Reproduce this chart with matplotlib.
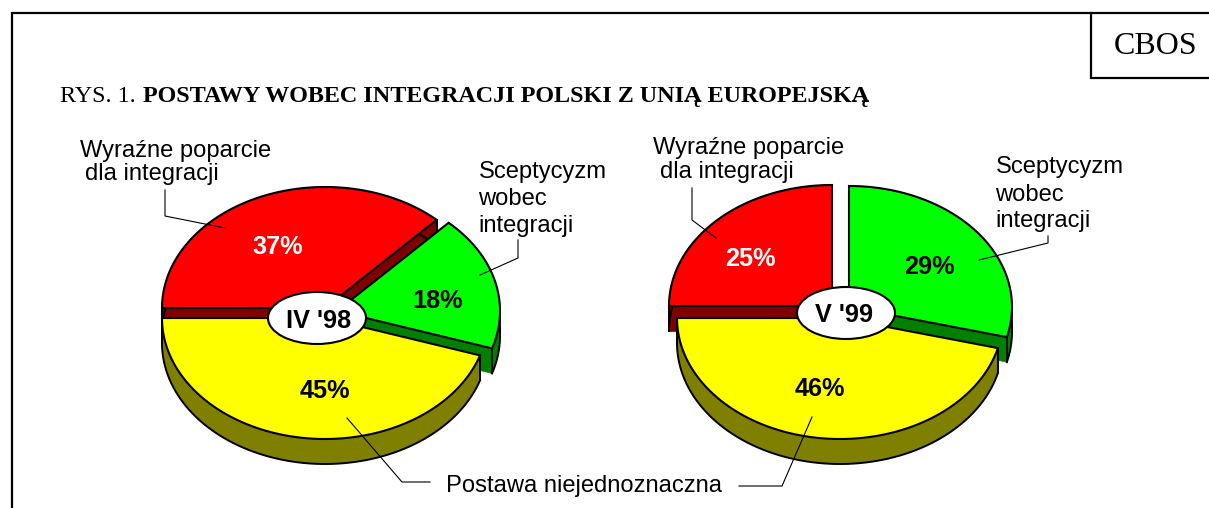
import numpy as np
import matplotlib
matplotlib.use("Agg")
import matplotlib.pyplot as plt
from matplotlib.patches import Polygon, Ellipse

W, H = 1209, 508
categories = ["Wyraźne poparcie dla integracji", "Sceptycyzm wobec integracji", "Postawa niejednoznaczna"]
periods = ["IV '98", "V '99"]
values_98 = [37, 18, 45]
values_99 = [25, 29, 46]
top_colors = ["#FF0000", "#00FF00", "#FFFF00"]
side_colors = ["#800000", "#008000", "#808000"]
pct_colors = ["white", "black", "black"]

RX, RY, DEPTH = 163, 121, 25
SANS = "Liberation Sans"
SERIF = "Liberation Serif"

fig = plt.figure(figsize=(W / 100, H / 100), dpi=100, facecolor="white")
ax = fig.add_axes([0, 0, 1, 1])
ax.set_xlim(0, W)
ax.set_ylim(H, 0)
ax.axis("off")


def wedge_points(center, a0, a1):
    t = np.radians(np.linspace(a0, a1, 160))
    xs = center[0] + RX * np.cos(t)
    ys = center[1] - RY * np.sin(t)
    return np.column_stack([xs, ys])


def draw_pie(values, centers, hole, period, pct_pos, period_pos):
    start = 180.0
    for i, v in enumerate(values):
        end = start - v * 3.6
        c = np.array(centers[i], dtype=float)
        arc = wedge_points(c, start, end)
        poly = np.vstack([[c], arc])
        shift = np.array([0, DEPTH])
        # side faces: rim band and the two radial cut faces, each one solid polygon
        faces = [np.vstack([arc, (arc + shift)[::-1]]),
                 np.array([c, arc[0], arc[0] + shift, c + shift]),
                 np.array([c, arc[-1], arc[-1] + shift, c + shift])]
        for face in faces:
            ax.add_patch(Polygon(face, closed=True, fc=side_colors[i], ec=side_colors[i], lw=0.5,
                                 zorder=2 + i * 3))
        for pt in [arc[0], arc[-1], arc[np.argmax(arc[:, 0])], arc[np.argmin(arc[:, 0])]]:
            ax.plot([pt[0], pt[0]], [pt[1], pt[1] + DEPTH], color="black", lw=1.2, zorder=3 + i * 3)
        ax.plot(arc[:, 0], arc[:, 1] + DEPTH, color="black", lw=1.4, zorder=3 + i * 3)
        ax.add_patch(Polygon(poly, closed=True, fc=top_colors[i], ec="black", lw=1.5,
                             joinstyle="miter", zorder=4 + i * 3))
        ax.text(*pct_pos[i], f"{v}%", color=pct_colors[i], fontsize=18.2, fontweight="bold",
                family=SANS, ha="center", va="center", zorder=30)
        start = end
    ax.add_patch(Ellipse(hole, 98, 52, fc="white", ec="black", lw=1.5, zorder=25))
    ax.text(*period_pos, period, fontsize=18.2, fontweight="bold", family=SANS,
            ha="center", va="center", zorder=30)


draw_pie(values_98, [(325, 308), (337, 311), (325, 318)], (317, 318), periods[0],
         [(277.5, 246.5), (438, 301), (325, 391)], (319, 321))
draw_pie(values_99, [(832, 306), (849, 307), (840, 318)], (846, 313), periods[1],
         [(750, 258.5), (929, 267.5), (820, 388.5)], (844, 315))

leaders = [
    [(165, 190), (165, 216), (225, 228)],
    [(518, 240), (518, 258), (480, 275)],
    [(347, 418), (402, 482), (430, 482)],
    [(692, 188), (692, 220), (716, 238)],
    [(1048, 236), (1048, 243), (979, 260)],
    [(812, 417), (782, 486), (739, 486)],
]
for pts in leaders:
    xs, ys = zip(*pts)
    ax.plot(xs, ys, color="black", lw=0.8, zorder=28)

lab = dict(family=SANS, fontsize=17.1, color="black", va="baseline", ha="left", zorder=30)
ax.text(80, 157, "Wyraźne poparcie", **lab)
ax.text(85, 180, "dla integracji", **lab)
ax.text(479, 178, "Sceptycyzm", **lab)
ax.text(478.5, 205, "wobec", **lab)
ax.text(478.5, 232, "integracji", **lab)
ax.text(653, 154, "Wyraźne poparcie", **lab)
ax.text(660, 178, "dla integracji", **lab)
ax.text(996, 173, "Sceptycyzm", **lab)
ax.text(995.5, 201, "wobec", **lab)
ax.text(995.5, 227, "integracji", **lab)
ax.text(446, 492, categories[2], **lab)

ax.text(60, 102, "RYS. 1.", family=SERIF, fontsize=17.4, va="baseline", ha="left")
ax.text(143, 102, "POSTAWY WOBEC INTEGRACJI POLSKI Z UNIĄ EUROPEJSKĄ", family=SERIF, fontsize=17.4,
        fontweight="bold", va="baseline", ha="left")

ax.plot([11.5, 11.5, W], [H, 12.5, 12.5], color="black", lw=1.6, solid_joinstyle="miter", zorder=40)
ax.plot([1090.5, 1090.5, W], [12.5, 77.5, 77.5], color="black", lw=1.6, solid_joinstyle="miter", zorder=40)
ax.text(1155.5, 53.5, "CBOS", family=SERIF, fontsize=23, va="baseline", ha="center")

fig.savefig("out.png", dpi=100, facecolor="white")
